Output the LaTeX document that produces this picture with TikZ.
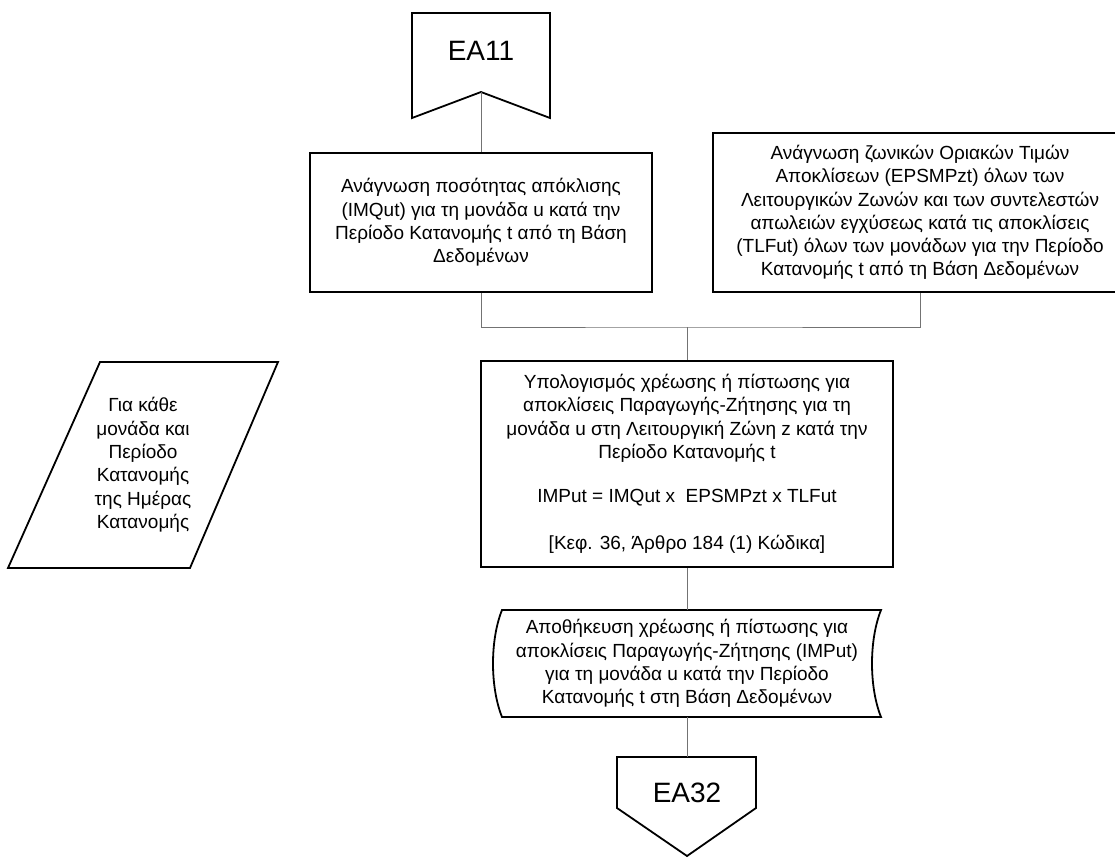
\documentclass[tikz,border=0pt]{standalone}
\usepackage{fontspec}
\setmainfont{Liberation Sans}
\begin{document}
\begin{tikzpicture}[x=1pt,y=-1pt,
  shapeline/.style={line width=1.8pt, draw=black, line join=miter},
  link/.style={line width=1pt, draw=black!55},
  boxtext/.style={font=\fontsize{19}{23.3}\selectfont, align=center, inner sep=0pt},
  procbox/.style={shapeline, boxtext, rectangle},
  offpage/.style={font=\fontsize{28}{32}\selectfont, inner sep=0pt}
]
\useasboundingbox (0,0) rectangle (1115,857);
\fill[white] (0,0) rectangle (1115,857);

% off-page connector at the top
\draw[shapeline] (412,13) -- (550,13) -- (550,118) -- (481,92) -- (412,118) -- cycle;
\node[offpage] (ea11) at (481,51) {EA11};
\coordinate (ea11tip) at (481,92);

% read steps
\node[procbox, minimum width=342pt, minimum height=139pt] (readimq) at (481,222.5)
  {Ανάγνωση ποσότητας απόκλισης\\(IMQut) για τη μονάδα u κατά την\\Περίοδο Κατανομής t από τη Βάση\\Δεδομένων};
\node[procbox, minimum width=414pt, minimum height=159pt] (readzone) at (920,212.5)
  {Ανάγνωση ζωνικών Οριακών Τιμών\\Αποκλίσεων (EPSMPzt) όλων των\\Λειτουργικών Ζωνών και των συντελεστών\\απωλειών εγχύσεως κατά τις αποκλίσεις\\(TLFut) όλων των μονάδων για την Περίοδο\\Κατανομής t από τη Βάση Δεδομένων};

% calculation step
\node[procbox, minimum width=412pt, minimum height=206pt] (calc) at (687,464)
  {Υπολογισμός χρέωσης ή πίστωσης για\\αποκλίσεις Παραγωγής-Ζήτησης για τη\\μονάδα u στη Λειτουργική Ζώνη z κατά την\\Περίοδο Κατανομής t\\[21pt]IMPut = IMQut x~ EPSMPzt x TLFut\\[24pt]{[}Κεφ. 36, Άρθρο 184 (1) Κώδικα{]}};

% stored data step
\node[boxtext, minimum width=388pt, minimum height=107pt] (store) at (687,663.5)
  {Αποθήκευση χρέωσης ή πίστωσης για\\αποκλίσεις Παραγωγής-Ζήτησης (IMPut)\\για τη μονάδα u κατά την Περίοδο\\Κατανομής t στη Βάση Δεδομένων};
\draw[shapeline] (502,610) -- (881,610) .. controls (869,640) and (869,687) .. (881,717)
  -- (502,717) .. controls (490,687) and (490,640) .. (502,610) -- cycle;

% off-page connector at the bottom
\draw[shapeline] (617,757) -- (756,757) -- (756,808) -- (687,856) -- (617,808) -- cycle;
\node[offpage] (ea32) at (687,793) {EA32};
\coordinate (ea32top) at (687,757);

% loop note
\draw[shapeline] (100,362) -- (278,362) -- (190,568) -- (8,568) -- cycle;
\node[boxtext] (loop) at (143,465)
  {Για κάθε\\μονάδα και\\Περίοδο\\Κατανομής\\της Ημέρας\\Κατανομής};

% connectors
\coordinate (merge) at (687,327);
\draw[link] (ea11tip) -- (readimq.north);
\draw[link] (readimq.south) |- (merge) -| (readzone.south);
\draw[link] (merge) -- (calc.north);
\draw[link] (calc.south) -- (store.north);
\draw[link] (store.south) -- (ea32top);
\end{tikzpicture}
\end{document}
